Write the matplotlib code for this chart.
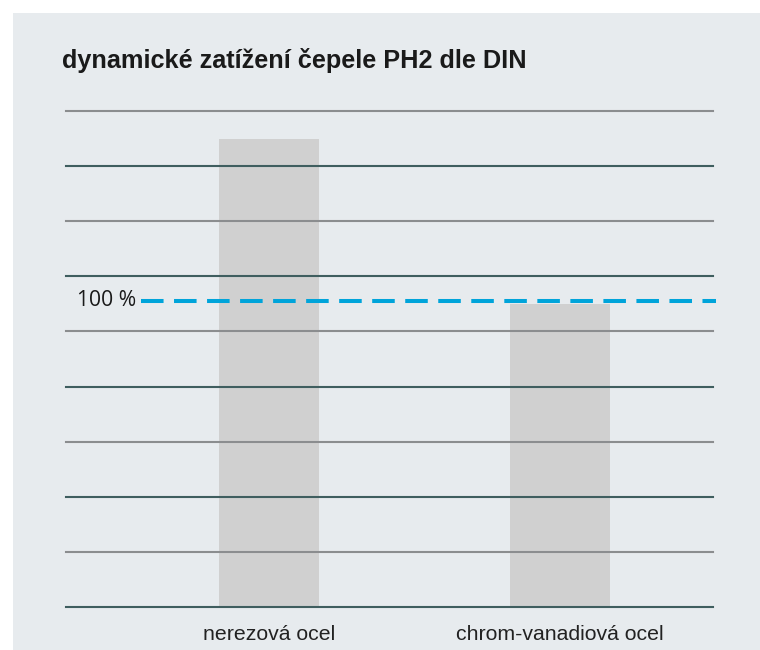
import matplotlib.pyplot as plt
from matplotlib.patches import Rectangle
import numpy as np

# percent of the DIN reference load
materials = ["nerezová ocel", "chrom-vanadiová ocel"]
load_pct = [153, 99]
reference_pct = 100
grid_step = 18
grid_top = 162

title = "dynamické zatížení čepele PH2 dle DIN"
ref_label = "100 %"

BG = "#e7ebee"
BAR = "#d0d0d0"
GRID_LIGHT = "#8b8d8f"
GRID_DARK = "#3f5e5f"
DASH = "#00a4da"


def main() -> None:
    fig = plt.figure(figsize=(7.6, 6.5), dpi=100)
    fig.patch.set_facecolor("white")
    fig.patches.append(
        Rectangle((13 / 760, 0), 1, 1 - 13 / 650, transform=fig.transFigure,
                  facecolor=BG, edgecolor="none", zorder=-10)
    )

    ax = fig.add_axes([66 / 760, 43 / 650, 647 / 760, 496 / 650])
    ax.set_facecolor("none")

    x = np.arange(len(materials))
    ax.bar(x, load_pct, width=0.344, color=BAR, zorder=1)

    levels = np.arange(0, grid_top + 1, grid_step)
    for i, lvl in enumerate(levels):
        color = GRID_DARK if i % 2 == 0 else GRID_LIGHT
        ax.axhline(lvl, color=color, lw=1.5, zorder=2, clip_on=False)

    ax.axhline(reference_pct, xmin=75 / 647, xmax=650 / 647, color=DASH,
               lw=2.9, dashes=(5.6, 2.6), zorder=3, clip_on=False)
    ax.text(-0.457, reference_pct, ref_label, ha="right", va="center",
            fontsize=15.2, family="Open Sans", color="#1a1a1a")

    ax.set_xlim(-0.700, 1.527)
    ax.set_ylim(0, grid_top)
    ax.set_xticks(x)
    ax.set_xticklabels(materials, family="Liberation Sans", fontsize=15.3,
                       color="#222222")
    ax.tick_params(axis="x", length=0, pad=13)
    ax.set_yticks([])
    for side in ax.spines.values():
        side.set_visible(False)

    fig.text(62 / 760, 1 - 68 / 650, title, ha="left", va="baseline",
             fontsize=18.2, fontweight="bold", family="Liberation Sans",
             color="#1a1a1a")

    fig.savefig("out.png", dpi=100, facecolor=fig.get_facecolor())
    plt.close(fig)


if __name__ == "__main__":
    main()
